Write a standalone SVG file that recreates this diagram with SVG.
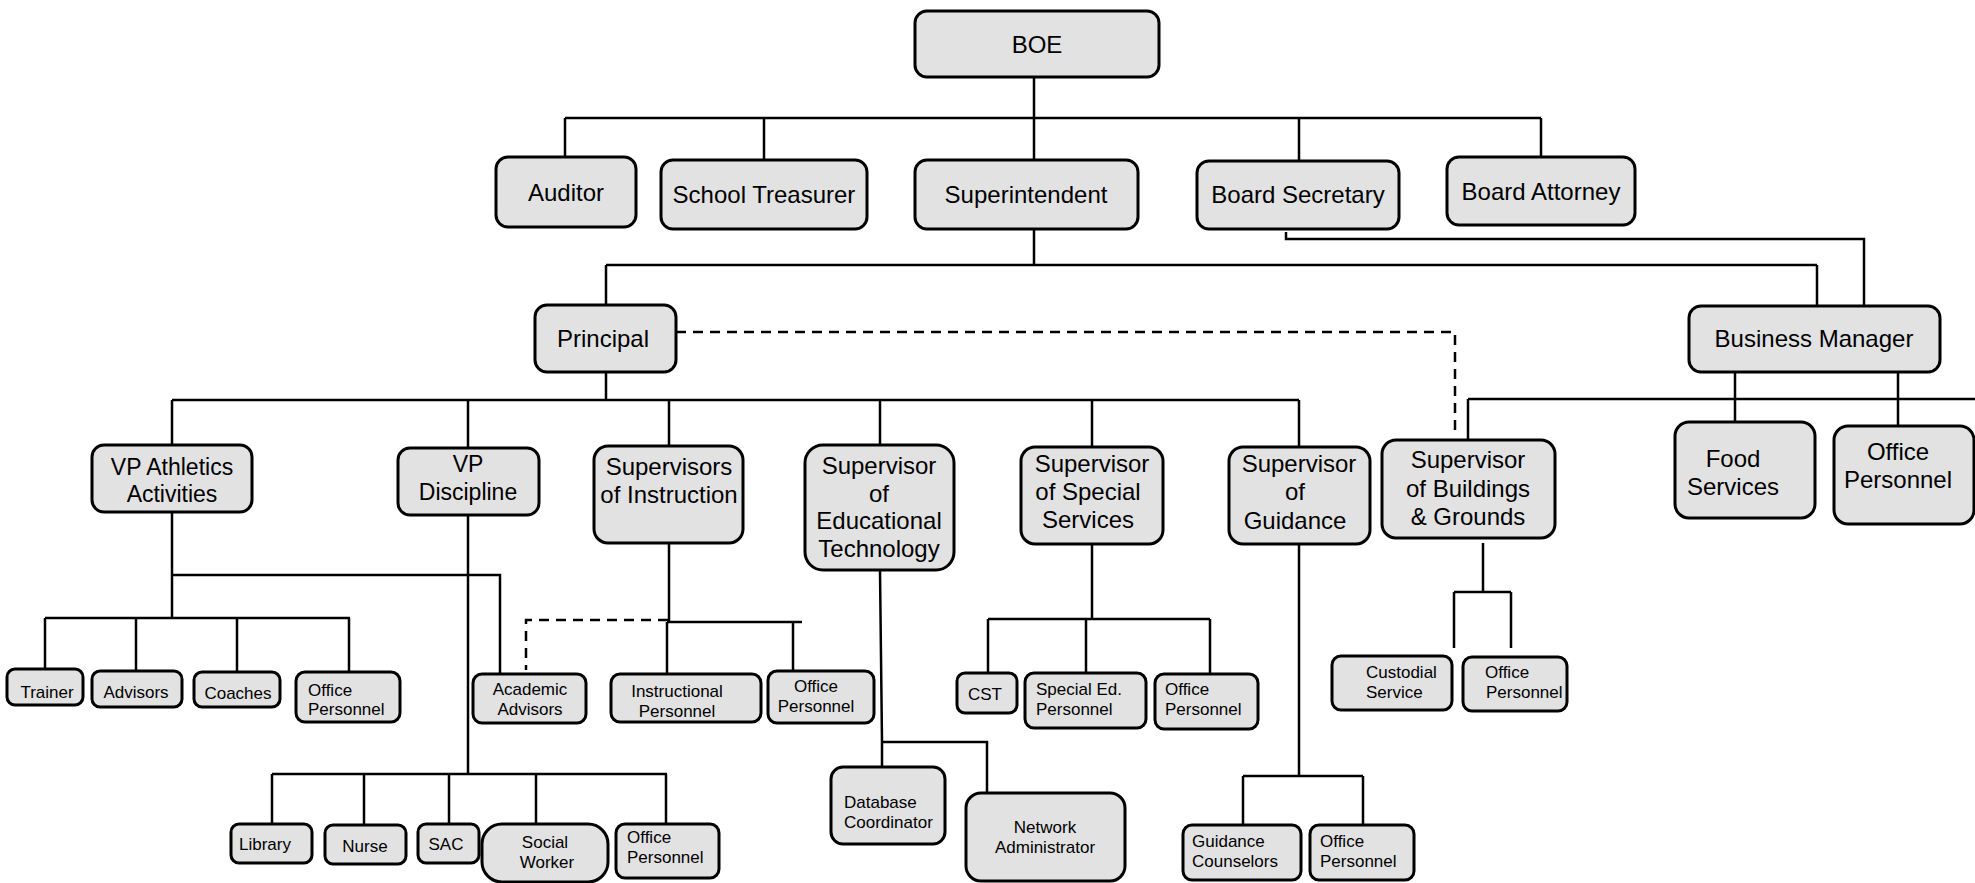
<svg xmlns="http://www.w3.org/2000/svg" width="1975" height="883" viewBox="0 0 1975 883">
<defs>
<style>
.b{fill:#e2e2e2;stroke:#000;stroke-width:3}
.t{font-family:"Liberation Sans",Arial,sans-serif;font-size:24px;fill:#000;text-anchor:middle}
.m{font-family:"Liberation Sans",Arial,sans-serif;font-size:23px;fill:#000;text-anchor:middle}
.s{font-family:"Liberation Sans",Arial,sans-serif;font-size:17px;fill:#000;text-anchor:middle}
.l{text-anchor:start}
.c{fill:none;stroke:#000;stroke-width:2.5}
.d{fill:none;stroke:#000;stroke-width:2.5;stroke-dasharray:10 7}
</style>
<marker id="ah" viewBox="0 0 10 10" refX="5" refY="2" markerWidth="6" markerHeight="6" orient="auto-start-reverse">
<path d="M0,10 L5,0 L10,10 Z" fill="#000"/>
</marker>
</defs>
<rect width="1975" height="883" fill="#fff"/>

<g id="connectors">
<path class="c" d="M1034,77V118M565,118H1541M565,118V156M764,118V160M1034,118V160M1299,118V161M1541,118V157"/>
<path class="c" d="M1034,229V265M606,265H1817M606,265V305M1817,265V306"/>
<path class="c" d="M1864,306V239H1286V232"/>
<path class="c" d="M606,372V400M172,400H1299M172,400V445M468,400V448M669,400V446M880,400V446M1092,400V447M1299,400V447"/>
<path class="d" d="M676,332H1455V430"/>
<path class="c" d="M1468,399H1975M1468,399V440M1735,372V422M1898,372V426"/>
<path class="c" d="M1483,543V592M1454,592H1511M1454,592V648M1511,592V648"/>
<path class="c" d="M172,512V618M172,575H500V674M45,618H350M45,618V669M136,618V671M237,618V672M349,618V672"/>
<path class="c" d="M468,515V774M272,774H667M272,774V824M364,774V825M449,774V824M536,774V824M666,774V824"/>
<path class="c" d="M669,543V622M667,622H802M667,622V674M793,622V671"/>
<path class="d" d="M668,620H526V670"/>
<path class="c" d="M880,571L882,742V767M882,742H987V793"/>
<path class="c" d="M1092,544V619M988,619H1210M988,619V673M1086,619V673M1210,619V674"/>
<path class="c" d="M1299,544V776M1243,776H1363M1243,776V825M1363,776V825"/>
</g>

<g id="boe"><rect class="b" x="915" y="11" width="244" height="66" rx="12"/><text class="t" x="1037" y="53">BOE</text></g>
<g id="auditor"><rect class="b" x="496" y="157" width="140" height="70" rx="12"/><text class="t" x="566" y="201">Auditor</text></g>
<g id="treasurer"><rect class="b" x="661" y="160" width="206" height="69" rx="12"/><text class="t" x="764" y="203">School Treasurer</text></g>
<g id="superintendent"><rect class="b" x="915" y="160" width="223" height="69" rx="12"/><text class="t" x="1026" y="203">Superintendent</text></g>
<g id="board-secretary"><rect class="b" x="1197" y="161" width="202" height="68" rx="12"/><text class="t" x="1298" y="203">Board Secretary</text></g>
<g id="board-attorney"><rect class="b" x="1447" y="157" width="188" height="68" rx="12"/><text class="t" x="1541" y="200">Board Attorney</text></g>

<g id="principal"><rect class="b" x="535" y="305" width="141" height="67" rx="12"/><text class="t" x="603" y="347">Principal</text></g>
<g id="business-manager"><rect class="b" x="1689" y="306" width="251" height="66" rx="12"/><text class="t" x="1814" y="347">Business Manager</text></g>

<g id="vp-athletics"><rect class="b" x="92" y="445" width="160" height="67" rx="12"/><text class="m" x="172" y="475">VP Athletics</text><text class="m" x="172" y="502">Activities</text></g>
<g id="vp-discipline"><rect class="b" x="398" y="448" width="141" height="67" rx="12"/><text class="m" x="468" y="472">VP</text><text class="m" x="468" y="500">Discipline</text></g>
<g id="sup-instruction"><rect class="b" x="594" y="446" width="149" height="97" rx="14"/><text class="t" x="669" y="475">Supervisors</text><text class="t" x="669" y="503">of Instruction</text></g>
<g id="sup-edtech"><rect class="b" x="805" y="445" width="149" height="125" rx="18"/><text class="t" x="879" y="474">Supervisor</text><text class="t" x="879" y="502">of</text><text class="t" x="879" y="529">Educational</text><text class="t" x="879" y="557">Technology</text></g>
<g id="sup-special"><rect class="b" x="1021" y="447" width="142" height="97" rx="14"/><text class="t" x="1092" y="472">Supervisor</text><text class="t" x="1088" y="500">of Special</text><text class="t" x="1088" y="528">Services</text></g>
<g id="sup-guidance"><rect class="b" x="1229" y="447" width="141" height="97" rx="14"/><text class="t" x="1299" y="472">Supervisor</text><text class="t" x="1295" y="500">of</text><text class="t" x="1295" y="529">Guidance</text></g>
<g id="sup-buildings"><rect class="b" x="1382" y="440" width="173" height="98" rx="14"/><text class="t" x="1468" y="468">Supervisor</text><text class="t" x="1468" y="497">of Buildings</text><text class="t" x="1468" y="525">&amp; Grounds</text></g>
<g id="food-services"><rect class="b" x="1675" y="422" width="140" height="96" rx="14"/><text class="t" x="1733" y="467">Food</text><text class="t" x="1733" y="495">Services</text></g>
<g id="bm-office"><rect class="b" x="1834" y="426" width="140" height="98" rx="14"/><text class="t" x="1898" y="460">Office</text><text class="t" x="1898" y="488">Personnel</text></g>

<g id="trainer"><rect class="b" x="7" y="669" width="76" height="36" rx="8"/><text class="s" x="47" y="698">Trainer</text></g>
<g id="advisors"><rect class="b" x="92" y="671" width="90" height="36" rx="8"/><text class="s" x="136" y="698">Advisors</text></g>
<g id="coaches"><rect class="b" x="194" y="672" width="86" height="35" rx="8"/><text class="s" x="238" y="699">Coaches</text></g>
<g id="ath-office"><rect class="b" x="296" y="672" width="104" height="50" rx="9"/><text class="s l" x="308" y="696">Office</text><text class="s l" x="308" y="715">Personnel</text></g>
<g id="academic-advisors"><rect class="b" x="473" y="674" width="113" height="49" rx="9"/><text class="s" x="530" y="695">Academic</text><text class="s" x="530" y="715">Advisors</text></g>
<g id="instructional"><rect class="b" x="611" y="674" width="150" height="48" rx="9"/><text class="s" x="677" y="697">Instructional</text><text class="s" x="677" y="717">Personnel</text></g>
<g id="instr-office"><rect class="b" x="768" y="671" width="106" height="52" rx="9"/><text class="s" x="816" y="692">Office</text><text class="s" x="816" y="712">Personnel</text></g>
<g id="cst"><rect class="b" x="957" y="673" width="60" height="40" rx="8"/><text class="s" x="985" y="700">CST</text></g>
<g id="special-ed"><rect class="b" x="1025" y="673" width="121" height="55" rx="9"/><text class="s l" x="1036" y="695">Special Ed.</text><text class="s l" x="1036" y="715">Personnel</text></g>
<g id="ss-office"><rect class="b" x="1155" y="674" width="103" height="55" rx="9"/><text class="s l" x="1165" y="695">Office</text><text class="s l" x="1165" y="715">Personnel</text></g>
<g id="custodial"><rect class="b" x="1332" y="656" width="120" height="54" rx="9"/><text class="s l" x="1366" y="678">Custodial</text><text class="s l" x="1366" y="698">Service</text></g>
<g id="bg-office"><rect class="b" x="1463" y="657" width="104" height="54" rx="9"/><text class="s l" x="1485" y="678">Office</text><text class="s l" x="1486" y="698">Personnel</text></g>
<g id="database"><rect class="b" x="831" y="767" width="114" height="77" rx="12"/><text class="s l" x="844" y="808">Database</text><text class="s l" x="844" y="828">Coordinator</text></g>
<g id="network"><rect class="b" x="966" y="793" width="159" height="88" rx="15"/><text class="s" x="1045" y="833">Network</text><text class="s" x="1045" y="853">Administrator</text></g>
<g id="guidance-counselors"><rect class="b" x="1183" y="825" width="118" height="55" rx="9"/><text class="s l" x="1192" y="847">Guidance</text><text class="s l" x="1192" y="867">Counselors</text></g>
<g id="guidance-office"><rect class="b" x="1310" y="825" width="104" height="55" rx="9"/><text class="s l" x="1320" y="847">Office</text><text class="s l" x="1320" y="867">Personnel</text></g>
<g id="library"><rect class="b" x="231" y="824" width="81" height="39" rx="8"/><text class="s" x="265" y="850">Library</text></g>
<g id="nurse"><rect class="b" x="325" y="825" width="81" height="39" rx="8"/><text class="s" x="365" y="852">Nurse</text></g>
<g id="sac"><rect class="b" x="418" y="824" width="61" height="39" rx="8"/><text class="s" x="446" y="850">SAC</text></g>
<g id="social-worker"><rect class="b" x="482" y="824" width="126" height="58" rx="20"/><text class="s" x="545" y="848">Social</text><text class="s" x="547" y="868">Worker</text></g>
<g id="disc-office"><rect class="b" x="616" y="824" width="103" height="54" rx="9"/><text class="s l" x="627" y="843">Office</text><text class="s l" x="627" y="863">Personnel</text></g>
</svg>
